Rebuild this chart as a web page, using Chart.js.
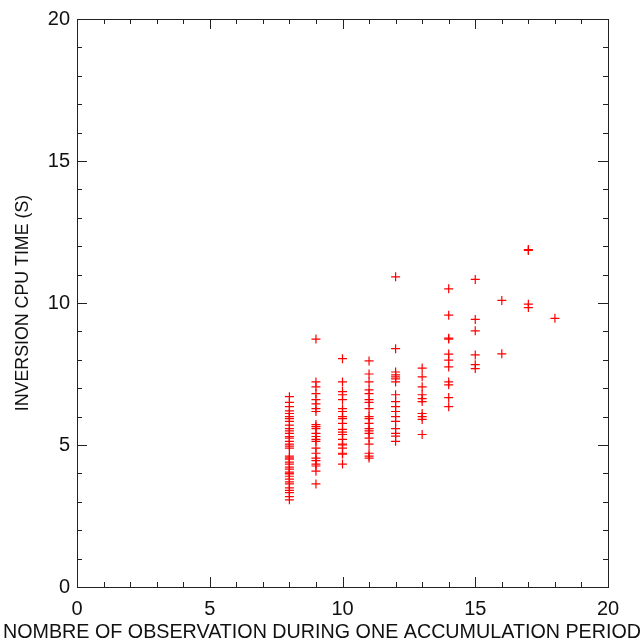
<!DOCTYPE html>
<html>
<head>
<meta charset="utf-8">
<script src="https://cdn.jsdelivr.net/npm/chart.js@4/dist/chart.umd.min.js"></script>
<style>
  html, body { margin: 0; padding: 0; background: #fff; }
  #wrap { width: 644px; height: 643px; }
</style>
</head>
<body>
<div id="wrap"><canvas id="cpuChart" width="644" height="643"></canvas></div>
<script>
// number of observations per accumulation period (x) and the CPU times seen for each
const obsCounts = [8, 9, 10, 11, 12, 13, 14, 15, 16, 17, 18];
const cpuTimes = [
    [6.70, 6.50, 6.35, 6.20, 6.11, 6.00, 5.93, 5.83, 5.70, 5.58, 5.50, 5.41, 5.30, 5.24, 5.13, 5.03, 4.96, 4.89, 4.61, 4.55, 4.50, 4.40, 4.33, 4.22, 4.15, 4.05, 4.01, 3.98, 3.90, 3.80, 3.70, 3.63, 3.49, 3.40, 3.32, 3.18, 3.07],
    [8.73, 7.22, 7.05, 6.81, 6.60, 6.45, 6.28, 6.18, 5.72, 5.65, 5.58, 5.41, 5.30, 5.20, 5.13, 4.89, 4.71, 4.54, 4.45, 4.33, 4.26, 4.08, 3.63],
    [8.04, 7.22, 6.88, 6.77, 6.60, 6.28, 6.18, 6.00, 5.93, 5.76, 5.55, 5.45, 5.37, 5.20, 5.03, 5.00, 4.89, 4.71, 4.68, 4.33],
    [7.96, 7.50, 7.22, 6.94, 6.81, 6.60, 6.50, 6.28, 6.00, 5.93, 5.76, 5.58, 5.50, 5.41, 5.24, 5.03, 4.71, 4.61, 4.54],
    [10.92, 8.39, 7.57, 7.47, 7.40, 7.33, 7.22, 6.77, 6.53, 6.35, 6.18, 6.00, 5.83, 5.58, 5.41, 5.31, 5.13],
    [7.71, 7.40, 7.05, 6.77, 6.63, 6.53, 6.11, 6.00, 5.90, 5.37],
    [10.50, 9.57, 8.76, 8.73, 8.20, 7.99, 7.75, 7.22, 7.12, 6.67, 6.35],
    [10.83, 9.42, 9.02, 8.17, 7.83, 7.69],
    [10.09, 8.21],
    [11.88, 11.85, 9.96, 9.84],
    [9.46]
];
const xTicks = [0, 5, 10, 15, 20];
const yTicks = [0, 5, 10, 15, 20];
const xTitle = 'NOMBRE OF OBSERVATION DURING ONE ACCUMULATION PERIOD';
const yTitle = 'INVERSION CPU TIME (S)';

const points = [];
obsCounts.forEach((n, i) => {
    cpuTimes[i].forEach(t => points.push({ x: n, y: t }));
});

const axisColor = '#222';
const sans = "'Liberation Sans', Arial, sans-serif";

// IDL style frame: box with inward ticks on all four sides, plus the wide x title
const framePlugin = {
    id: 'frame',
    afterDraw(chart) {
        const { ctx, chartArea: a, scales } = chart;
        ctx.save();
        ctx.strokeStyle = axisColor;
        ctx.lineWidth = 1;
        ctx.strokeRect(a.left + 0.5, a.top + 0.5, a.right - a.left, a.bottom - a.top);
        ctx.beginPath();
        for (let v = 0; v <= 20; v++) {
            const len = v % 5 === 0 ? 10 : 5;
            const px = Math.round(scales.x.getPixelForValue(v)) + 0.5;
            ctx.moveTo(px, a.bottom); ctx.lineTo(px, a.bottom - len);
            ctx.moveTo(px, a.top); ctx.lineTo(px, a.top + len);
            const py = Math.round(scales.y.getPixelForValue(v)) + 0.5;
            ctx.moveTo(a.left, py); ctx.lineTo(a.left + len, py);
            ctx.moveTo(a.right, py); ctx.lineTo(a.right - len, py);
        }
        ctx.stroke();

        // the title runs wider than the plot, condensed to fit the canvas
        ctx.fillStyle = '#111';
        ctx.font = '21px ' + sans;
        ctx.textAlign = 'center';
        ctx.textBaseline = 'middle';
        ctx.fillText(xTitle, chart.width / 2, 632, 638);
        ctx.restore();
    }
};

const tickFont = { family: sans, size: 20 };

new Chart(document.getElementById('cpuChart'), {
    type: 'scatter',
    data: {
        datasets: [{
            data: points,
            pointStyle: 'cross',
            pointRadius: 4.5,
            pointBorderWidth: 1.2,
            borderColor: '#ff0000',
            backgroundColor: '#ff0000'
        }]
    },
    plugins: [framePlugin],
    options: {
        responsive: false,
        animation: false,
        layout: { padding: { top: 14, right: 36, left: 0, bottom: 0 } },
        plugins: { legend: { display: false }, tooltip: { enabled: false } },
        scales: {
            x: {
                min: 0, max: 20,
                afterBuildTicks: s => { s.ticks = xTicks.map(v => ({ value: v })); },
                afterFit: s => { s.height = 56; },
                grid: { display: false, tickLength: 0 },
                border: { display: false },
                ticks: { color: '#111', font: tickFont, padding: 10, maxRotation: 0 },
                title: { display: false }
            },
            y: {
                min: 0, max: 20,
                afterBuildTicks: s => { s.ticks = yTicks.map(v => ({ value: v })); },
                afterFit: s => { s.width = 77; },
                grid: { display: false, tickLength: 0 },
                border: { display: false },
                ticks: { color: '#111', font: tickFont, padding: 7 },
                title: { display: true, text: yTitle, color: '#111', font: { family: sans, size: 17.8 }, padding: { top: 12, bottom: 0 } }
            }
        }
    }
});
</script>
</body>
</html>
